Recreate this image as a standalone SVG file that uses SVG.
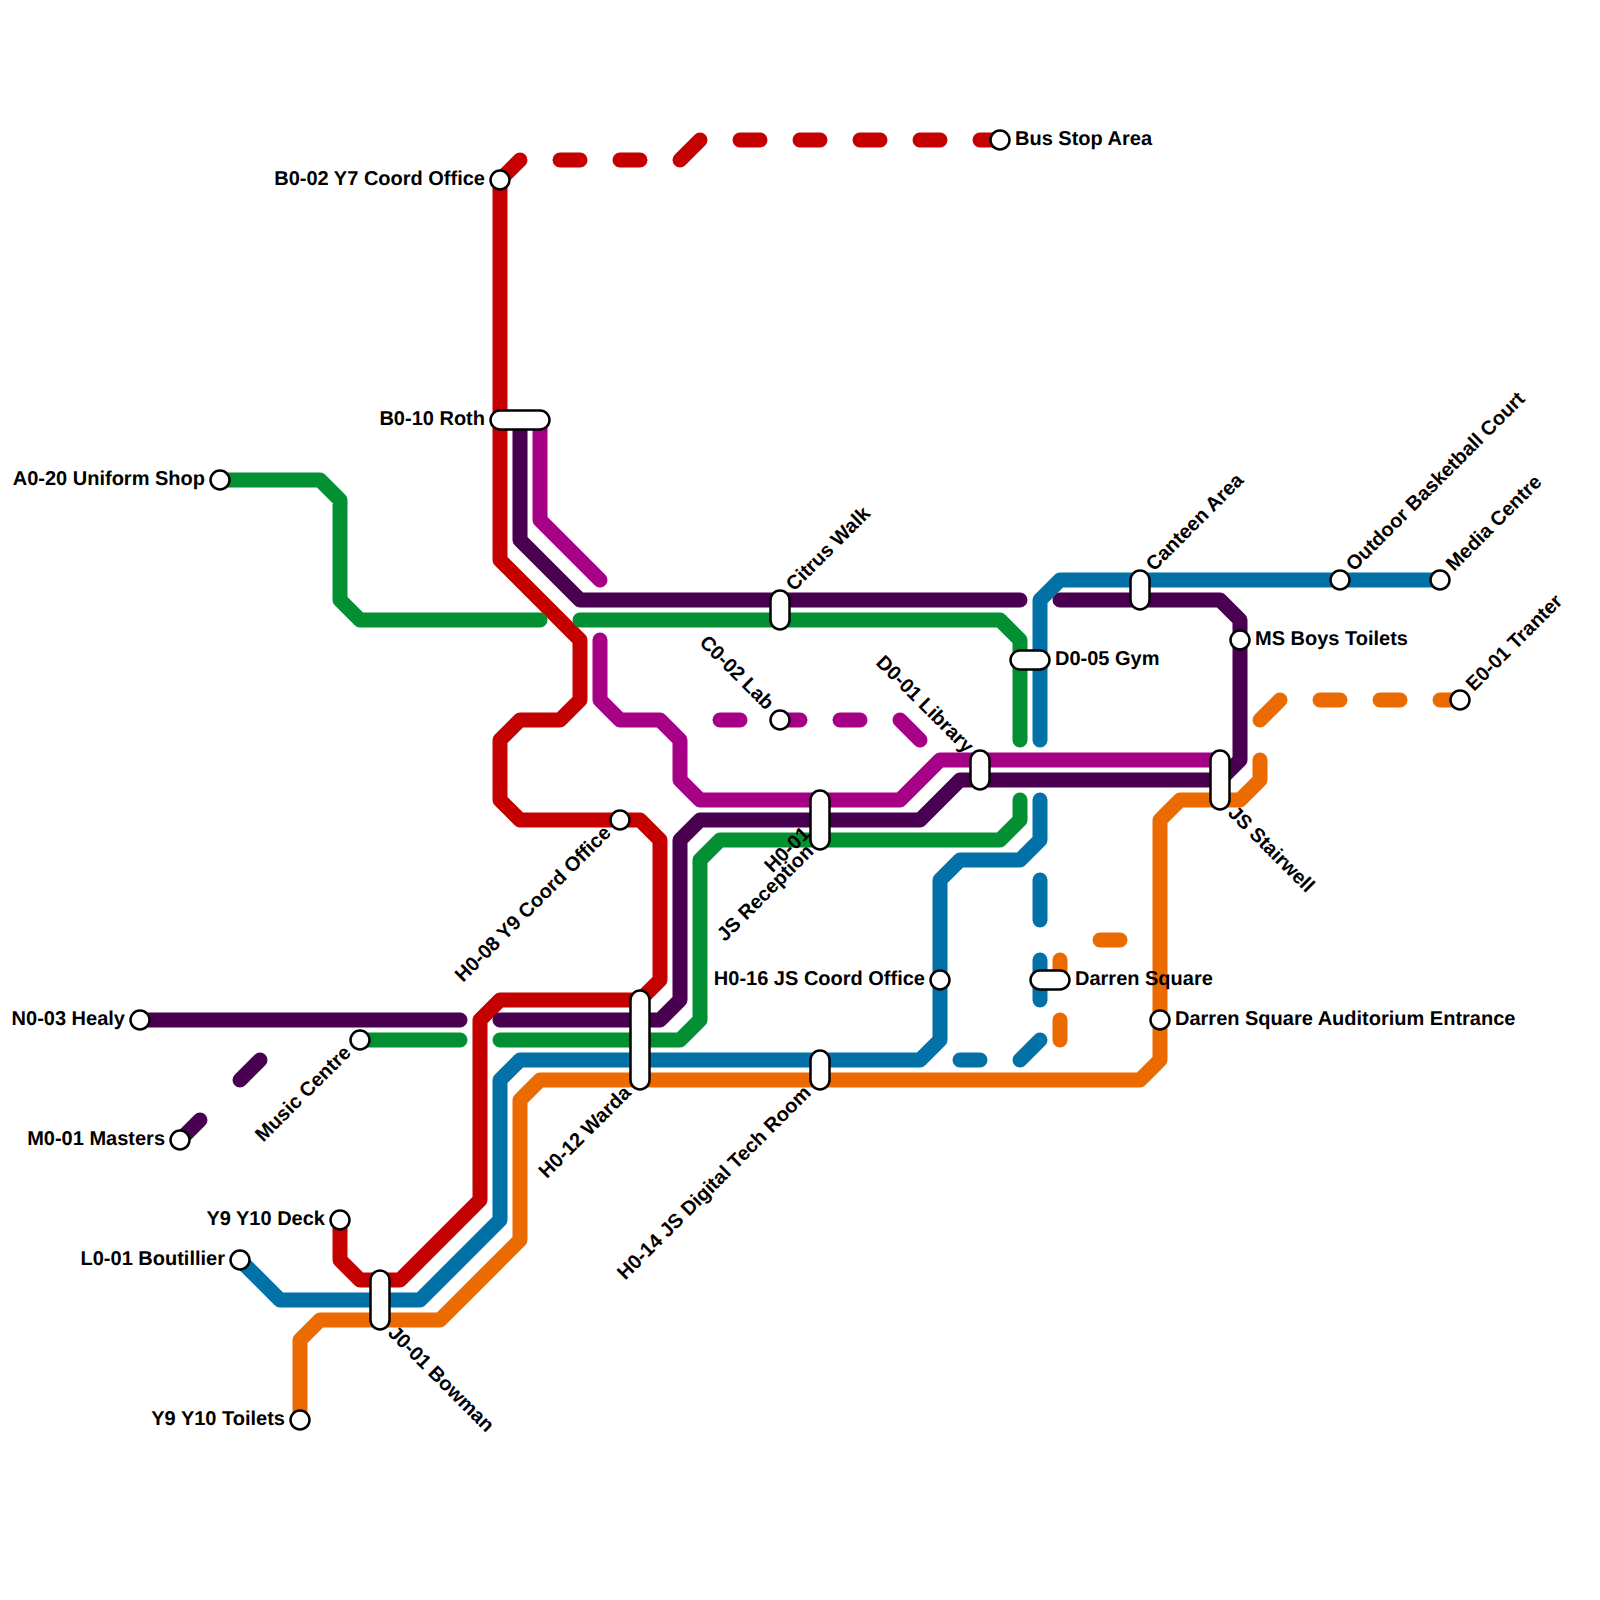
<svg xmlns="http://www.w3.org/2000/svg" width="1600" height="1600" viewBox="0 0 1600 1600">
<style>
.l{fill:none;stroke-width:15;stroke-linecap:round;stroke-linejoin:round}
.red{stroke:#c40000}.pur{stroke:#490051}.mag{stroke:#a60086}.grn{stroke:#039033}.blu{stroke:#0271a8}.org{stroke:#eb6b00}
.s{fill:#fff;stroke:#000;stroke-width:2.5}
text{font-family:"Liberation Sans",Arial,sans-serif;font-size:20px;font-weight:700;fill:#000;text-rendering:geometricPrecision}
.e{text-anchor:end}
</style>
<rect width="1600" height="1600" fill="#fff"/>
<g id="connectors">
<path class="l red" d="M340 1220V1260L360 1280H400L480 1200V1020L500 1000H640L660 980V840L640 820H520L500 800V740L520 720H560L580 700V640L500 560V180"/>
<path class="l red" d="M500 180L520 160M560 160H580M620 160H640M680 160L700 140M740 140H760M800 140H820M860 140H880M920 140H940M980 140H1000"/>
<path class="l pur" d="M140 1020H460M500 1020H660L680 1000V840L700 820H920L960 780H1220L1240 760V620L1220 600H1060M1020 600H580L520 540V420"/>
<path class="l pur" d="M180 1140L200 1120M240 1080L260 1060"/>
<path class="l mag" d="M540 420V520L600 580M600 640V700L620 720H660L680 740V780L700 800H900L940 760H1220"/>
<path class="l mag" d="M720 720H740M780 720H800M840 720H860M900 720L920 740"/>
<path class="l grn" d="M220 480H320L340 500V600L360 620H540M580 620H1000L1020 640V740M1020 800V820L1000 840H720L700 860V1020L680 1040H500M460 1040H360"/>
<path class="l blu" d="M240 1260L280 1300H420L500 1220V1080L520 1060H920L940 1040V880L960 860H1020L1040 840V800M1040 740V600L1060 580H1440"/>
<path class="l blu" d="M1040 880V920M1040 960V1000M1040 1040L1020 1060M980 1060H960"/>
<path class="l org" d="M300 1420V1340L320 1320H440L520 1240V1100L540 1080H1140L1160 1060V820L1180 800H1240L1260 780V760"/>
<path class="l org" d="M1260 720L1280 700M1320 700H1340M1380 700H1400M1440 700H1460M1100 940H1120M1060 960V980M1060 1020V1040"/>
</g>
<g id="bus-stop-area"><circle class="s" cx="1000" cy="140" r="9.500"/><text x="1015" y="145">Bus Stop Area</text></g>
<g id="b0-02"><circle class="s" cx="500" cy="180" r="9.500"/><text class="e" x="485" y="185">B0-02 Y7 Coord Office</text></g>
<g id="b0-10"><rect class="s" x="490.500" y="410.500" width="59" height="19" rx="9.500"/><text class="e" x="485" y="425">B0-10 Roth</text></g>
<g id="a0-20"><circle class="s" cx="220" cy="480" r="9.500"/><text class="e" x="205" y="485">A0-20 Uniform Shop</text></g>
<g id="citrus-walk"><rect class="s" x="770.500" y="590.500" width="19" height="39" rx="9.500"/><text transform="translate(794 592) rotate(-45)">Citrus Walk</text></g>
<g id="canteen-area"><rect class="s" x="1130.500" y="570.500" width="19" height="39" rx="9.500"/><text transform="translate(1154 572) rotate(-45)">Canteen Area</text></g>
<g id="outdoor-basketball"><circle class="s" cx="1340" cy="580" r="9.500"/><text transform="translate(1354 572) rotate(-45)">Outdoor Basketball Court</text></g>
<g id="media-centre"><circle class="s" cx="1440" cy="580" r="9.500"/><text transform="translate(1454 572) rotate(-45)">Media Centre</text></g>
<g id="ms-boys-toilets"><circle class="s" cx="1240" cy="640" r="9.500"/><text x="1255" y="645">MS Boys Toilets</text></g>
<g id="d0-05"><rect class="s" x="1010.500" y="650.500" width="39" height="19" rx="9.500"/><text x="1055" y="665">D0-05 Gym</text></g>
<g id="e0-01"><circle class="s" cx="1460" cy="700" r="9.500"/><text transform="translate(1474 692) rotate(-45)">E0-01 Tranter</text></g>
<g id="c0-02"><circle class="s" cx="780" cy="720" r="9.500"/><text class="e" transform="translate(766 711) rotate(45)">C0-02 Lab</text></g>
<g id="d0-01"><rect class="s" x="970.500" y="750.500" width="19" height="39" rx="9.500"/><text class="e" transform="translate(965.500 754) rotate(45)">D0-01 Library</text></g>
<g id="js-stairwell"><rect class="s" x="1210.500" y="750.500" width="19" height="59" rx="9.500"/><text transform="translate(1227 814) rotate(45)">JS Stairwell</text></g>
<g id="h0-01"><rect class="s" x="810.500" y="790.500" width="19" height="59" rx="9.500"/><text class="e" transform="translate(811 835) rotate(-45)">H0-01<tspan x="-10" dy="15">JS Reception</tspan></text></g>
<g id="h0-08"><circle class="s" cx="620" cy="820" r="9.500"/><text class="e" transform="translate(612 834) rotate(-45)">H0-08 Y9 Coord Office</text></g>
<g id="h0-16"><circle class="s" cx="940" cy="980" r="9.500"/><text class="e" x="925" y="985">H0-16 JS Coord Office</text></g>
<g id="darren-square"><rect class="s" x="1030.500" y="970.500" width="39" height="19" rx="9.500"/><text x="1075" y="985">Darren Square</text></g>
<g id="darren-square-auditorium"><circle class="s" cx="1160" cy="1020" r="9.500"/><text x="1175" y="1025">Darren Square Auditorium Entrance</text></g>
<g id="n0-03"><circle class="s" cx="140" cy="1020" r="9.500"/><text class="e" x="125" y="1025">N0-03 Healy</text></g>
<g id="music-centre"><circle class="s" cx="360" cy="1040" r="9.500"/><text class="e" transform="translate(352 1054) rotate(-45)">Music Centre</text></g>
<g id="h0-12"><rect class="s" x="630.500" y="990.500" width="19" height="99" rx="9.500"/><text class="e" transform="translate(632 1094) rotate(-45)">H0-12 Warda</text></g>
<g id="h0-14"><rect class="s" x="810.500" y="1050.500" width="19" height="39" rx="9.500"/><text class="e" transform="translate(812 1094) rotate(-45)">H0-14 JS Digital Tech Room</text></g>
<g id="m0-01"><circle class="s" cx="180" cy="1140" r="9.500"/><text class="e" x="165" y="1145">M0-01 Masters</text></g>
<g id="y9-y10-deck"><circle class="s" cx="340" cy="1220" r="9.500"/><text class="e" x="325" y="1225">Y9 Y10 Deck</text></g>
<g id="l0-01"><circle class="s" cx="240" cy="1260" r="9.500"/><text class="e" x="225" y="1265">L0-01 Boutillier</text></g>
<g id="j0-01"><rect class="s" x="370.500" y="1270.500" width="19" height="59" rx="9.500"/><text transform="translate(387 1334) rotate(45)">J0-01 Bowman</text></g>
<g id="y9-y10-toilets"><circle class="s" cx="300" cy="1420" r="9.500"/><text class="e" x="285" y="1425">Y9 Y10 Toilets</text></g>
</svg>
